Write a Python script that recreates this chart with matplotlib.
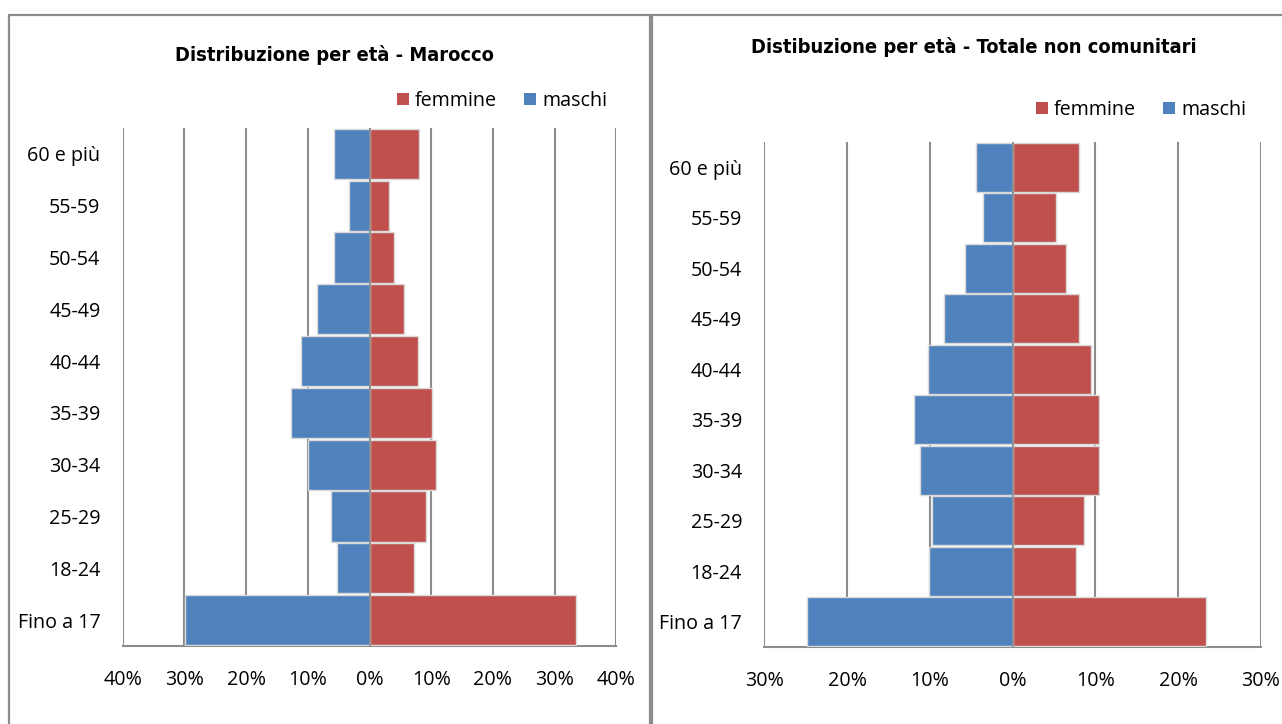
import matplotlib
matplotlib.use("Agg")
import matplotlib.pyplot as plt
from matplotlib.patches import Rectangle, Patch
import numpy as np

# ---------------- data ----------------
categories = ["Fino a 17", "18-24", "25-29", "30-34", "35-39",
              "40-44", "45-49", "50-54", "55-59", "60 e più"]

marocco_maschi = [29.9, 5.3, 6.2, 9.9, 12.8, 11.1, 8.5, 5.7, 3.4, 5.7]
marocco_femmine = [33.4, 7.2, 9.2, 10.7, 10.1, 7.8, 5.6, 3.9, 3.2, 8.1]

totale_maschi = [24.8, 10.1, 9.7, 11.2, 11.9, 10.2, 8.3, 5.7, 3.6, 4.4]
totale_femmine = [23.4, 7.7, 8.6, 10.5, 10.5, 9.5, 8.0, 6.5, 5.2, 8.0]

title_left = "Distribuzione per età - Marocco"
title_right = "Distibuzione per età - Totale non comunitari"
legend_labels = ["femmine", "maschi"]
ticks_left = [-40, -30, -20, -10, 0, 10, 20, 30, 40]
ticks_right = [-30, -20, -10, 0, 10, 20, 30]

# ---------------- style ----------------
BLUE = "#4F81BD"
RED = "#C0504D"
GRID = "#8C8C8C"
BORDER = "#8C8C8C"
FONT = ["Open Sans", "DejaVu Sans"]

W, H = 1282, 724
fig = plt.figure(figsize=(W / 100, H / 100), dpi=100)
fig.patch.set_facecolor("white")


def fx(px):
    return px / W


def fy(py):
    return 1 - py / H


# panel borders
fig.add_artist(Rectangle((fx(9), fy(735)), fx(650 - 9), (735 - 15) / H,
                         transform=fig.transFigure, fill=False,
                         edgecolor=BORDER, linewidth=1.6, clip_on=False))
fig.add_artist(Rectangle((fx(652), fy(735)), fx(1300 - 652), (735 - 15) / H,
                         transform=fig.transFigure, fill=False,
                         edgecolor=BORDER, linewidth=1.6, clip_on=False))


def pyramid(rect, maschi, femmine, ticks, title, title_xy, legend_xy):
    ax = fig.add_axes(rect)
    y = np.arange(len(categories))
    ax.barh(y, [-v for v in maschi], height=0.97, color=BLUE,
            edgecolor="#DADADA", linewidth=1.0, zorder=3)
    ax.barh(y, femmine, height=0.97, color=RED,
            edgecolor="#DADADA", linewidth=1.0, zorder=3)
    ax.axvline(0, color=GRID, linewidth=1.3, zorder=4)
    ax.set_xlim(ticks[0], ticks[-1])
    ax.set_ylim(-0.5, len(categories) - 0.5)
    ax.set_xticks(ticks)
    ax.set_xticklabels([f"{abs(t)}%" for t in ticks])
    ax.set_yticks(y)
    ax.set_yticklabels(categories)
    for t in ticks:
        ax.axvline(t, color=GRID, linewidth=1.5, zorder=1)
    for s in ["top", "left", "right"]:
        ax.spines[s].set_visible(False)
    ax.spines["bottom"].set_color(GRID)
    ax.spines["bottom"].set_linewidth(1.5)
    ax.tick_params(axis="both", length=0, labelsize=14.2, colors="#000000")
    ax.tick_params(axis="x", pad=17)
    ax.tick_params(axis="y", pad=16)
    for lab in ax.get_xticklabels() + ax.get_yticklabels():
        lab.set_family(FONT)
    fig.text(fx(title_xy[0]), fy(title_xy[1]), title, ha="center",
             va="center", fontsize=14.4, fontweight="bold",
             family="DejaVu Sans", fontstretch="condensed")
    handles = [Patch(facecolor=RED, edgecolor="none"),
               Patch(facecolor=BLUE, edgecolor="none")]
    fig.legend(handles, legend_labels, loc="center",
               bbox_to_anchor=(fx(legend_xy[0]), fy(legend_xy[1])),
               ncol=2, frameon=False, handlelength=0.6, handleheight=0.6,
               handletextpad=0.3, columnspacing=1.4,
               prop={"family": FONT, "size": 14.2})
    return ax


pyramid([fx(122.7), fy(646), fx(616.3 - 122.7), (646 - 128) / H],
        marocco_maschi, marocco_femmine, ticks_left, title_left,
        (334, 55), (502, 101))
pyramid([fx(764.3), fy(647), fx(1260.8 - 764.3), (647 - 142) / H],
        totale_maschi, totale_femmine, ticks_right, title_right,
        (974, 47), (1141, 110))

fig.savefig("out.png", dpi=100, facecolor="white")
